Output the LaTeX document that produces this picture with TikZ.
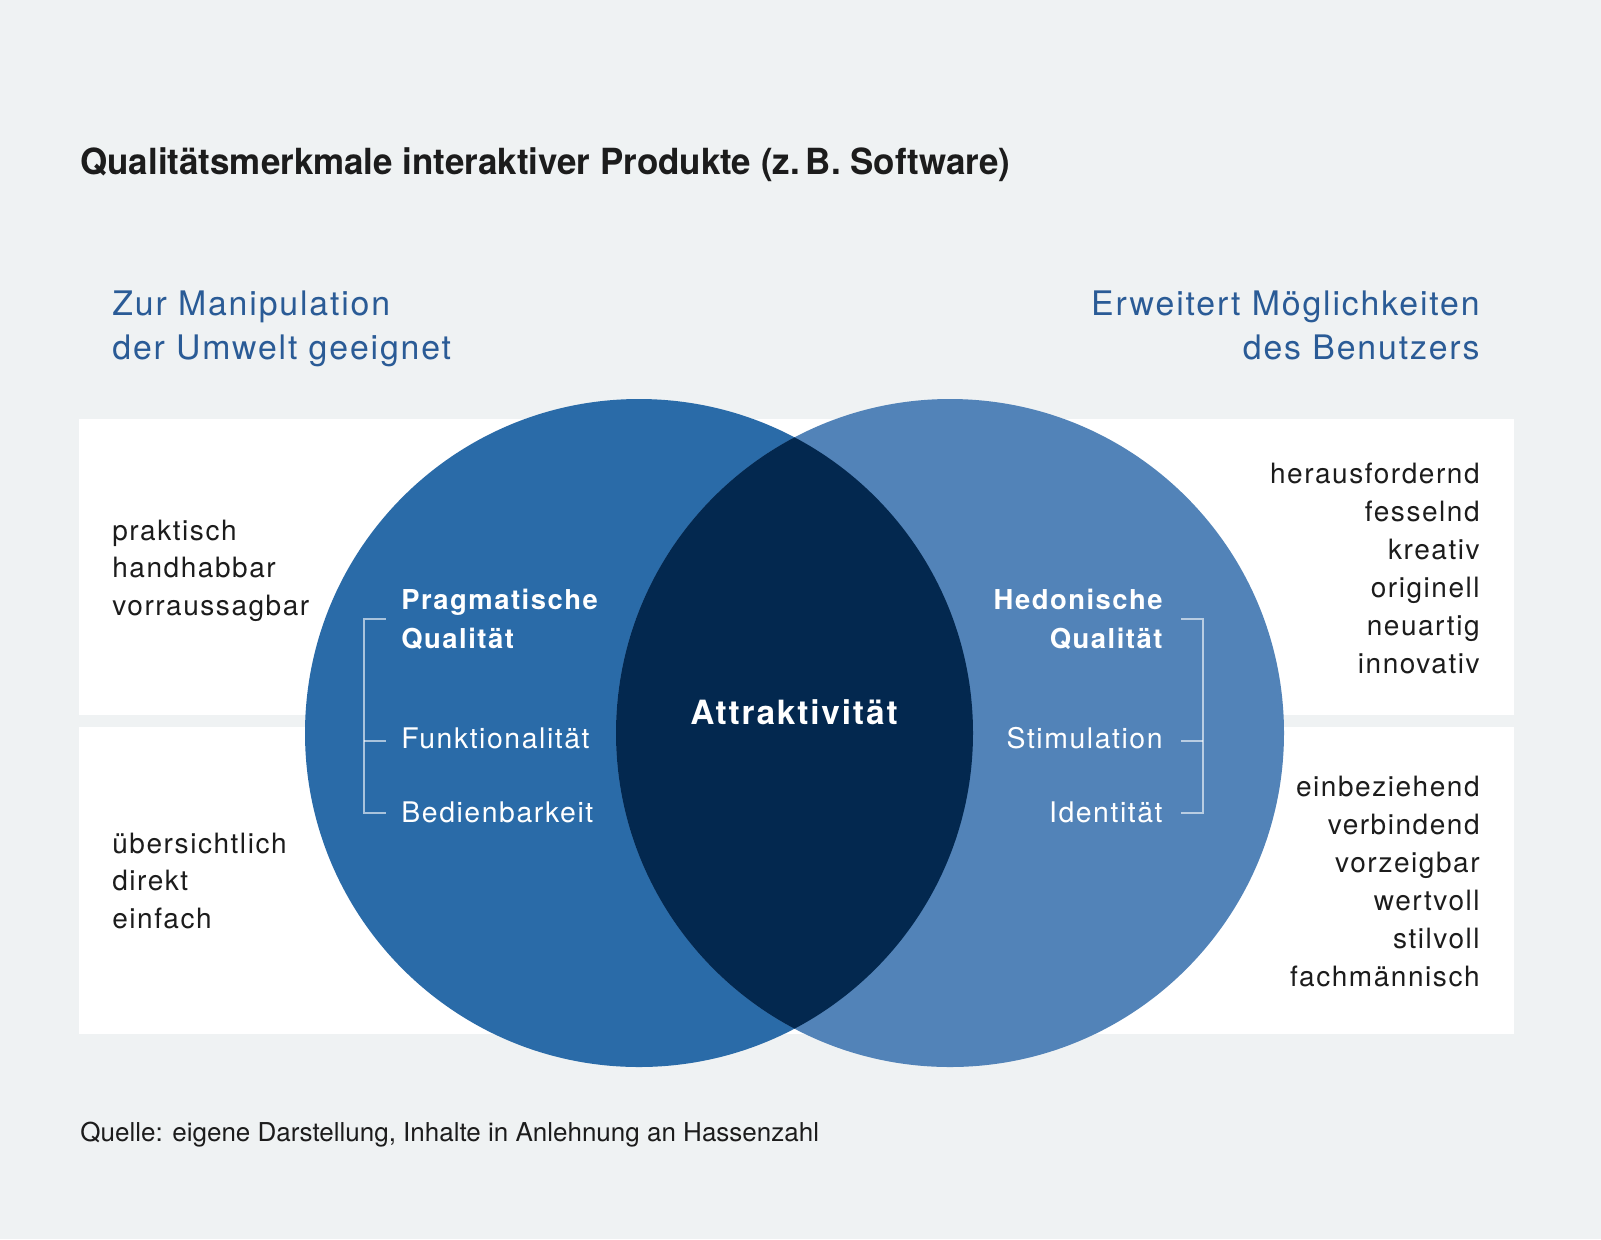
\documentclass[tikz,border=0pt]{standalone}
\usepackage{fontspec}
\setmainfont{TeX Gyre Heros}
\newfontfamily\trackfont[LetterSpace=5.5]{TeX Gyre Heros}
\newfontfamily\condfont[FakeStretch=0.97]{TeX Gyre Heros}
\usetikzlibrary{positioning}

\definecolor{bgGrey}{HTML}{EFF2F3}
\definecolor{pragBlue}{HTML}{2A6BA8}
\definecolor{hedBlue}{HTML}{5283B8}
\definecolor{attrBlue}{HTML}{03284F}
\definecolor{headBlue}{HTML}{2A5B96}
\definecolor{textDark}{HTML}{1C1C1C}

\begin{document}
\begin{tikzpicture}[
 x=0.5pt, y=-0.5pt,
 every node/.style={inner sep=0pt},
 title/.style={font=\condfont\bfseries\fontsize{18}{21}\selectfont, text=textDark},
 source/.style={font=\fontsize{13}{16}\selectfont, text=textDark},
 head/.style={font=\trackfont\fontsize{16.9}{20}\selectfont, text=headBlue},
 word/.style={font=\trackfont\fontsize{14}{17}\selectfont, text=textDark},
 quality/.style={font=\trackfont\bfseries\fontsize{13.7}{16}\selectfont, text=white},
 aspect/.style={font=\trackfont\fontsize{14.2}{17}\selectfont, text=white},
 bracket/.style={draw=white, draw opacity=0.6, line width=0.6pt}
]
 % background and the two white bands
 \fill[bgGrey] (0,0) rectangle (1601,1239);
 \fill[white] (79,419) rectangle (1514,715);
 \fill[white] (79,727) rectangle (1514,1034);

 % the two circles and their overlap
 \coordinate (pragC) at (639,733);
 \coordinate (hedC) at (950,733);
 \fill[pragBlue] (pragC) circle[radius=334];
 \fill[hedBlue] (hedC) circle[radius=334];
 \begin{scope}
  \clip (pragC) circle[radius=334];
  \fill[attrBlue] (hedC) circle[radius=334];
 \end{scope}

 % title and source
 \node[title, anchor=base west] (title) at (80,174) {Qualitätsmerkmale interaktiver Produkte (z.\,B. Software)};
 \node[source, anchor=base west] (source) at (80,1141) {Quelle: eigene Darstellung, Inhalte in Anlehnung an Hassenzahl};

 % headings
 \node[head, anchor=base west] (pragHead1) at (112,315) {Zur Manipulation};
 \node[head, anchor=base west] (pragHead2) at (112,359) {der Umwelt geeignet};
 \node[head, anchor=base east] (hedHead1) at (1480,315) {Erweitert Möglichkeiten};
 \node[head, anchor=base east] (hedHead2) at (1480,359) {des Benutzers};

 % attributes on the left
 \foreach \w [count=\i] in {praktisch, handhabbar, vorraussagbar}
  \node[word, anchor=base west] (prag\i) at (112,{540+37.5*(\i-1)}) {\w};
 \foreach \w [count=\i] in {übersichtlich, direkt, einfach}
  \node[word, anchor=base west] (bed\i) at (112,{853+37.5*(\i-1)}) {\w};

 % attributes on the right
 \foreach \w [count=\i] in {herausfordernd, fesselnd, kreativ, originell, neuartig, innovativ}
  \node[word, anchor=base east] (stim\i) at (1480,{483+38*(\i-1)}) {\w};
 \foreach \w [count=\i] in {einbeziehend, verbindend, vorzeigbar, wertvoll, stilvoll, fachmännisch}
  \node[word, anchor=base east] (ident\i) at (1480,{796+38*(\i-1)}) {\w};

 % inside the circles
 \node[quality, anchor=base west] (pragQ1) at (401,609) {Pragmatische};
 \node[quality, anchor=base west] (pragQ2) at (401,648) {Qualität};
 \node[aspect, anchor=base west] (funk) at (401,748) {Funktionalität};
 \node[aspect, anchor=base west] (bedien) at (401,822) {Bedienbarkeit};

 \node[quality, anchor=base east] (hedQ1) at (1163,609) {Hedonische};
 \node[quality, anchor=base east] (hedQ2) at (1163,648) {Qualität};
 \node[aspect, anchor=base east] (stim) at (1163,748) {Stimulation};
 \node[aspect, anchor=base east] (ident) at (1163,822) {Identität};

 \node[font=\trackfont\bfseries\fontsize{16.7}{19}\selectfont, text=white] (attr) at (794,712) {Attraktivität};

 % brackets
 \coordinate (brLtop) at (364,619);
 \coordinate (brLmid) at (364,741);
 \coordinate (brLbot) at (364,813);
 \coordinate (brRtop) at (1203,619);
 \coordinate (brRmid) at (1203,741);
 \coordinate (brRbot) at (1203,813);
 \draw[bracket] ([xshift=11pt]brLtop) -- (brLtop) -- (brLbot) -- ([xshift=11pt]brLbot);
 \draw[bracket] (brLmid) -- ([xshift=11pt]brLmid);
 \draw[bracket] ([xshift=-11pt]brRtop) -- (brRtop) -- (brRbot) -- ([xshift=-11pt]brRbot);
 \draw[bracket] (brRmid) -- ([xshift=-11pt]brRmid);
\end{tikzpicture}
\end{document}
